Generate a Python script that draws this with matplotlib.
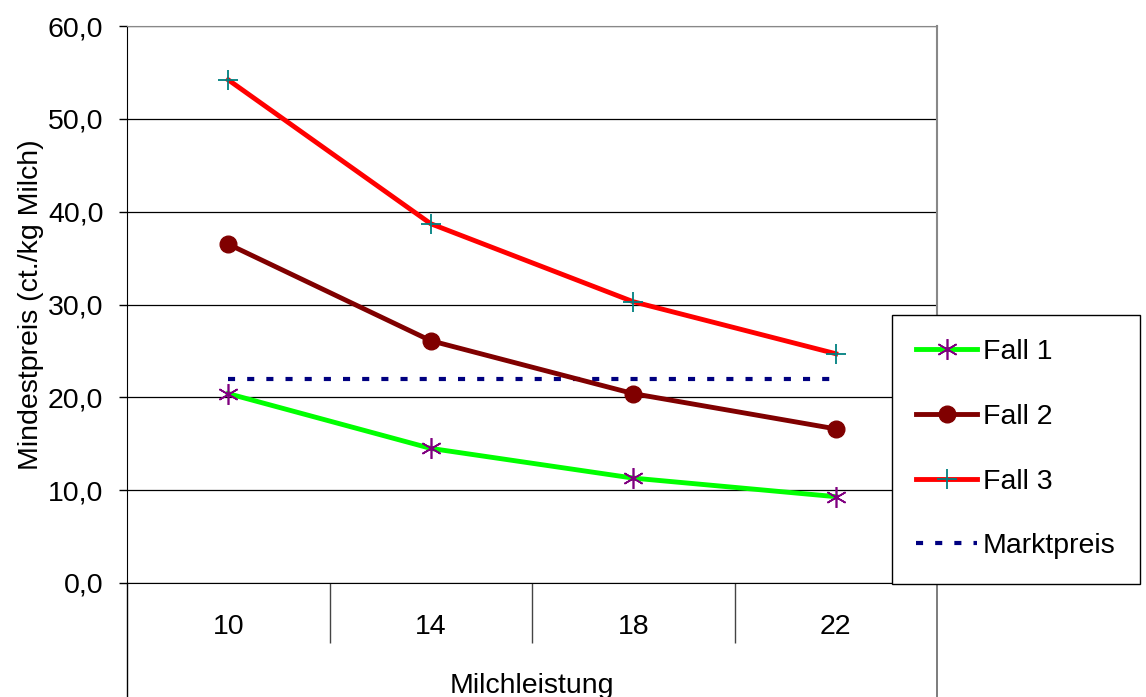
import matplotlib
matplotlib.use('Agg')
import matplotlib.pyplot as plt
from matplotlib.ticker import FixedLocator

plt.rcParams['font.family'] = ['Liberation Sans', 'DejaVu Sans']

# data
milchleistung = ['10', '14', '18', '22']
fall1 = [20.4, 14.5, 11.3, 9.3]
fall2 = [36.5, 26.1, 20.4, 16.6]
fall3 = [54.2, 38.7, 30.3, 24.7]
marktpreis = [22.0, 22.0, 22.0, 22.0]
y_ticks = [0, 10, 20, 30, 40, 50, 60]
y_tick_labels = ['0,0', '10,0', '20,0', '30,0', '40,0', '50,0', '60,0']

FS = 20.5

fig = plt.figure(figsize=(11.46, 6.97), dpi=100)
ax = fig.add_axes([127 / 1146, (697 - 583) / 697, 810 / 1146, 557 / 697])

x = list(range(len(milchleistung)))

ax.plot(x, fall1, color='#00FF00', lw=3.5, marker=(6, 2, 0), ms=15,
        mec='#800080', mfc='#800080', mew=1.2, label='Fall 1', zorder=3)
ax.plot(x, fall2, color='#800000', lw=3.5, marker='o', ms=12,
        mec='#800000', mfc='#800000', label='Fall 2', zorder=3)
ax.plot(x, fall3, color='#FF0000', lw=3.5, marker='+', ms=14,
        mec='#008080', mew=1.3, label='Fall 3', zorder=3)
ax.plot(x, marktpreis, color='#000080', lw=3, dashes=(1.7, 2.9),
        label='Marktpreis', zorder=2)

ax.set_xlim(-0.5, len(milchleistung) - 0.5)
ax.set_ylim(0, 60)

# y axis
ax.set_yticks(y_ticks)
ax.set_yticklabels(y_tick_labels, fontsize=FS)
ax.tick_params(axis='y', direction='out', length=6, width=1, pad=11)
ax.set_ylabel('Mindestpreis (ct./kg Milch)', fontsize=FS, labelpad=3)
ax.yaxis.grid(True, color='black', lw=0.9)
ax.set_axisbelow(True)

# x axis: labels in the middle, separators between categories
ax.set_xticks(x)
ax.set_xticklabels(milchleistung, fontsize=FS)
ax.tick_params(axis='x', which='major', length=0, pad=22)
ax.xaxis.set_minor_locator(FixedLocator([0.5, 1.5, 2.5]))
ax.tick_params(axis='x', which='minor', direction='out', length=43, width=1,
               color='#444444')

ax.spines['left'].set_color('black')
ax.spines['bottom'].set_color('black')
ax.spines['top'].set_color('#888888')
ax.spines['right'].set_color('#888888')
ax.spines['right'].set_linewidth(1.5)

# frame lines under the category axis
ax.plot([0, 0], [0, -0.21], transform=ax.transAxes, color='black', lw=1,
        clip_on=False)
ax.plot([1, 1], [0, -0.21], transform=ax.transAxes, color='#666666', lw=1.2,
        clip_on=False)

fig.text(532 / 1146, 4 / 697, 'Milchleistung', fontsize=FS, ha='center',
         va='baseline')

leg = ax.legend(loc='upper left', bbox_to_anchor=(892 / 1146, 382 / 697),
                bbox_transform=fig.transFigure, fontsize=FS, numpoints=1,
                handlelength=2.15, handletextpad=0.2, labelspacing=1.36,
                borderpad=0.85, borderaxespad=0, fancybox=False, framealpha=1)
leg.get_frame().set_edgecolor('black')
leg.get_frame().set_linewidth(1)

fig.savefig('out.png', dpi=100)
